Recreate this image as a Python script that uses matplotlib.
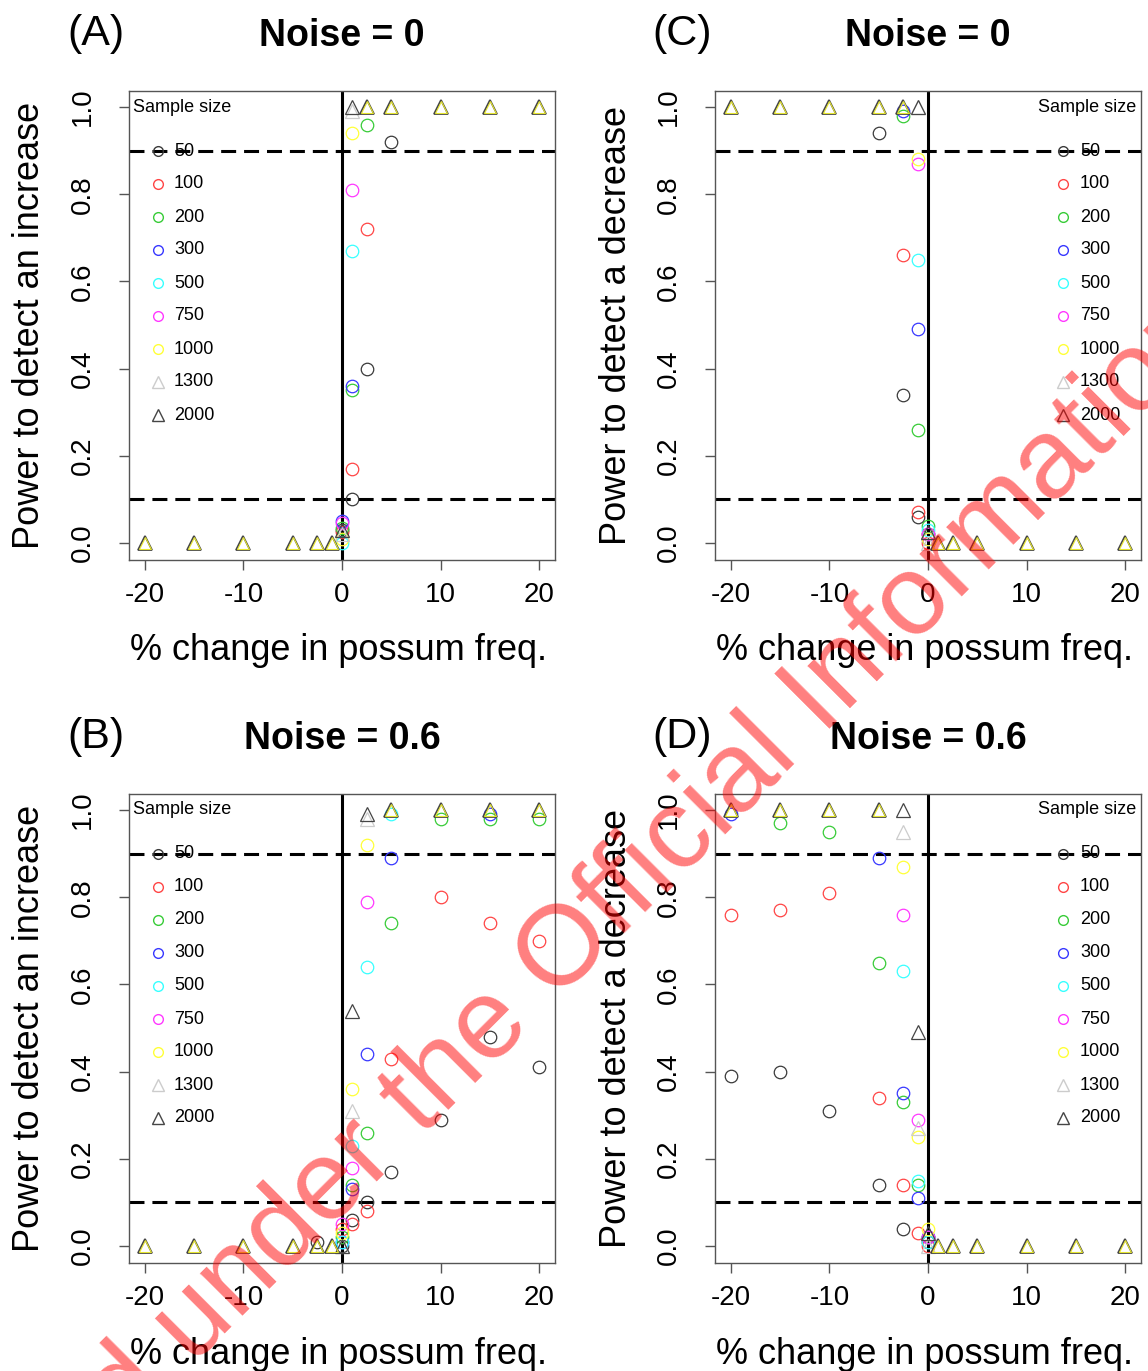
import matplotlib
matplotlib.use("Agg")
import matplotlib.pyplot as plt

plt.rcParams['font.family'] = ['Liberation Sans', 'DejaVu Sans']

# sample sizes and their colours / markers (R default palette look)
sizes = [50, 100, 200, 300, 500, 750, 1000, 1300, 2000]
size_colors = ['#3a3a3a', '#ff4545', '#38cc38', '#3838ff', '#38ffff',
               '#ff38ff', '#ffff38', '#cccccc', '#454545']
size_markers = ['o'] * 7 + ['^', '^']

# Panel A: noise 0, power to detect an increase
a_size = [50, 50, 50, 50, 100, 100, 100, 200, 200, 200, 300, 300, 500, 500,
          750, 750, 1000, 1000, 1300, 1300, 2000, 2000]
a_x = [0, 1, 2.5, 5, 0, 1, 2.5, 0, 1, 2.5, 0, 1, 0, 1,
       0, 1, 0, 1, 0, 1, 0, 1]
a_y = [0.03, 0.10, 0.40, 0.92, 0.025, 0.17, 0.72, 0.035, 0.35, 0.96, 0.05, 0.36, 0.0, 0.67,
       0.045, 0.81, 0.01, 0.94, 0.02, 0.99, 0.03, 1.0]
a_hi = [2.5, 5, 10, 15, 20]
a_lo = [-20, -15, -10, -5, -2.5, -1]

# Panel C: noise 0, power to detect a decrease
c_size = [50, 50, 50, 50, 100, 100, 100, 200, 200, 200, 300, 300, 300,
          500, 500, 750, 750, 1000, 1000, 1300, 1300, 2000, 2000]
c_x = [-5, -2.5, -1, 0, -2.5, -1, 0, -2.5, -1, 0, -2.5, -1, 0,
       -1, 0, -1, 0, -1, 0, -1, 0, -1, 0]
c_y = [0.94, 0.34, 0.06, 0.02, 0.66, 0.07, 0.0, 0.98, 0.26, 0.04, 0.99, 0.49, 0.01,
       0.65, 0.03, 0.87, 0.02, 0.88, 0.01, 1.0, 0.0, 1.0, 0.025]
c_hi = [-20, -15, -10, -5, -2.5]
c_lo = [1, 2.5, 5, 10, 15, 20]

# Panel B: noise 0.6, power to detect an increase
b_size = [50] * 8 + [100] * 7 + [200] * 7 + [300] * 5 + [500] * 4 + [750] * 3 \
    + [1000] * 3 + [1300] * 3 + [2000] * 3
b_x = [-2.5, 0, 1, 2.5, 5, 10, 15, 20,
       0, 1, 2.5, 5, 10, 15, 20,
       0, 1, 2.5, 5, 10, 15, 20,
       0, 1, 2.5, 5, 15,
       0, 1, 2.5, 5,
       0, 1, 2.5,
       0, 1, 2.5,
       0, 1, 2.5,
       0, 1, 2.5]
b_y = [0.01, 0.0, 0.06, 0.10, 0.17, 0.29, 0.48, 0.41,
       0.04, 0.05, 0.08, 0.43, 0.80, 0.74, 0.70,
       0.02, 0.14, 0.26, 0.74, 0.98, 0.98, 0.98,
       0.01, 0.13, 0.44, 0.89, 0.99,
       0.01, 0.23, 0.64, 0.99,
       0.05, 0.18, 0.79,
       0.03, 0.36, 0.92,
       0.0, 0.31, 0.98,
       0.0, 0.54, 0.99]
b_hi = [5, 10, 15, 20]
b_lo = [-20, -15, -10, -5, -2.5, -1]

# Panel D: noise 0.6, power to detect a decrease
d_size = [50] * 6 + [100] * 7 + [200] * 6 + [300] * 5 + [500] * 3 + [750] * 3 \
    + [1000] * 3 + [1300] * 3 + [2000] * 3
d_x = [-20, -15, -10, -5, -2.5, 0,
       -20, -15, -10, -5, -2.5, -1, 0,
       -15, -10, -5, -2.5, -1, 0,
       -20, -5, -2.5, -1, 0,
       -2.5, -1, 0,
       -2.5, -1, 0,
       -2.5, -1, 0,
       -2.5, -1, 0,
       -2.5, -1, 0]
d_y = [0.39, 0.40, 0.31, 0.14, 0.04, 0.01,
       0.76, 0.77, 0.81, 0.34, 0.14, 0.03, 0.0,
       0.97, 0.95, 0.65, 0.33, 0.14, 0.02,
       0.99, 0.89, 0.35, 0.11, 0.02,
       0.63, 0.15, 0.01,
       0.76, 0.29, 0.02,
       0.87, 0.25, 0.04,
       0.95, 0.27, 0.0,
       1.0, 0.49, 0.03]
d_hi = [-20, -15, -10, -5]
d_lo = [1, 2.5, 5, 10, 15, 20]

panels = [
    ('(A)', 'Noise = 0', 'Power to detect an increase', a_size, a_x, a_y, a_hi, a_lo, 'left'),
    ('(C)', 'Noise = 0', 'Power to detect a decrease', c_size, c_x, c_y, c_hi, c_lo, 'right'),
    ('(B)', 'Noise = 0.6', 'Power to detect an increase', b_size, b_x, b_y, b_hi, b_lo, 'left'),
    ('(D)', 'Noise = 0.6', 'Power to detect a decrease', d_size, d_x, d_y, d_hi, d_lo, 'right'),
]

W, H = 1148, 1371
fig = plt.figure(figsize=(W / 100, H / 100), dpi=100)

# axes boxes in pixels: left, top, right, bottom
boxes = [(129, 91, 555, 560), (715, 91, 1141, 560),
         (129, 794, 555, 1263), (715, 794, 1141, 1263)]

for (tag, title, ylab, s_list, x_list, y_list, hi, lo, side), box in zip(panels, boxes):
    l, t, r, b = box
    ax = fig.add_axes([l / W, 1 - b / H, (r - l) / W, (b - t) / H])
    ax.set_xlim(-21.6, 21.6)
    ax.set_ylim(-0.039, 1.037)
    for sp in ax.spines.values():
        sp.set_color('#555555')
        sp.set_linewidth(1.0)

    ax.axhline(0.1, color='black', lw=2.2, dashes=(4.9, 2.6), zorder=1)
    ax.axhline(0.9, color='black', lw=2.2, dashes=(4.9, 2.6), zorder=1)
    ax.axvline(0, color='black', lw=2.2, zorder=1)

    for k, n in enumerate(sizes):
        xs = [x for x, s in zip(x_list, s_list) if s == n]
        ys = [y for y, s in zip(y_list, s_list) if s == n]
        ms = 10.5 if size_markers[k] == '^' else 9
        ax.plot(xs, ys, linestyle='none', marker=size_markers[k], ms=ms,
                mfc='none', mec=size_colors[k], mew=0.9, zorder=3 + k)

    # saturated points where every sample size sits at 1 or 0
    for xs, yv in [(hi, 1.0), (lo, 0.0)]:
        ax.plot(xs, [yv] * len(xs), linestyle='none', marker='^', ms=10,
                mfc='none', mec='#454545', mew=1.3, zorder=20)
        ax.plot(xs, [yv] * len(xs), linestyle='none', marker='^', ms=8,
                mfc='none', mec='#e6e630', mew=0.8, zorder=21)

    ax.set_xticks([-20, -10, 0, 10, 20])
    ax.set_xticklabels(['-20', '-10', '0', '10', '20'])
    ax.set_yticks([0, 0.2, 0.4, 0.6, 0.8, 1.0])
    ax.set_yticklabels(['0.0', '0.2', '0.4', '0.6', '0.8', '1.0'],
                       rotation=90, va='center')
    ax.tick_params(axis='both', direction='out', length=7, width=1.0,
                   color='#555555', labelsize=20)
    ax.tick_params(axis='x', pad=9)
    ax.tick_params(axis='y', pad=17)

    cx = (l + r) / 2
    fig.text(cx / W, 1 - (t - 55) / H, title, ha='center', va='center',
             fontsize=27, fontweight='bold')
    fig.text((l - 33) / W, 1 - (t - 57) / H, tag, ha='center', va='center',
             fontsize=31)
    fig.text((cx - 4) / W, 1 - (b + 91) / H, '% change in possum freq.',
             ha='center', va='center', fontsize=26)
    fig.text((l - 99) / W, 1 - ((t + b) / 2) / H, ylab, ha='center',
             va='center', rotation=90, fontsize=26)

    # legend drawn by hand, R style
    pw, ph = r - l, b - t
    if side == 'left':
        tx, tha = 4 / pw, 'left'
        mx, lx = 29 / pw, 45 / pw
    else:
        tx, tha = 1 - 5 / pw, 'right'
        mx, lx = 348 / pw, 365 / pw
    ax.text(tx, 1 - 16 / ph, 'Sample size', transform=ax.transAxes,
            ha=tha, va='center', fontsize=13, zorder=30)
    for k, n in enumerate(sizes):
        yy = 1 - (60 + 33 * k) / ph
        ax.plot([mx], [yy], transform=ax.transAxes, linestyle='none',
                marker=size_markers[k], ms=7 if k < 7 else 8, mfc='none',
                mec=size_colors[k], mew=1.0, clip_on=False, zorder=30)
        ax.text(lx, yy, str(n), transform=ax.transAxes, ha='left',
                va='center', fontsize=13, zorder=30)

# diagonal watermark
fig.text(595 / W, 1 - 963 / H, 'Released under the Official Information Act',
         ha='center', va='baseline', rotation=45, rotation_mode='anchor',
         fontsize=82, color='#ff0000', alpha=0.5, zorder=100)

fig.savefig('out.png', dpi=100)
